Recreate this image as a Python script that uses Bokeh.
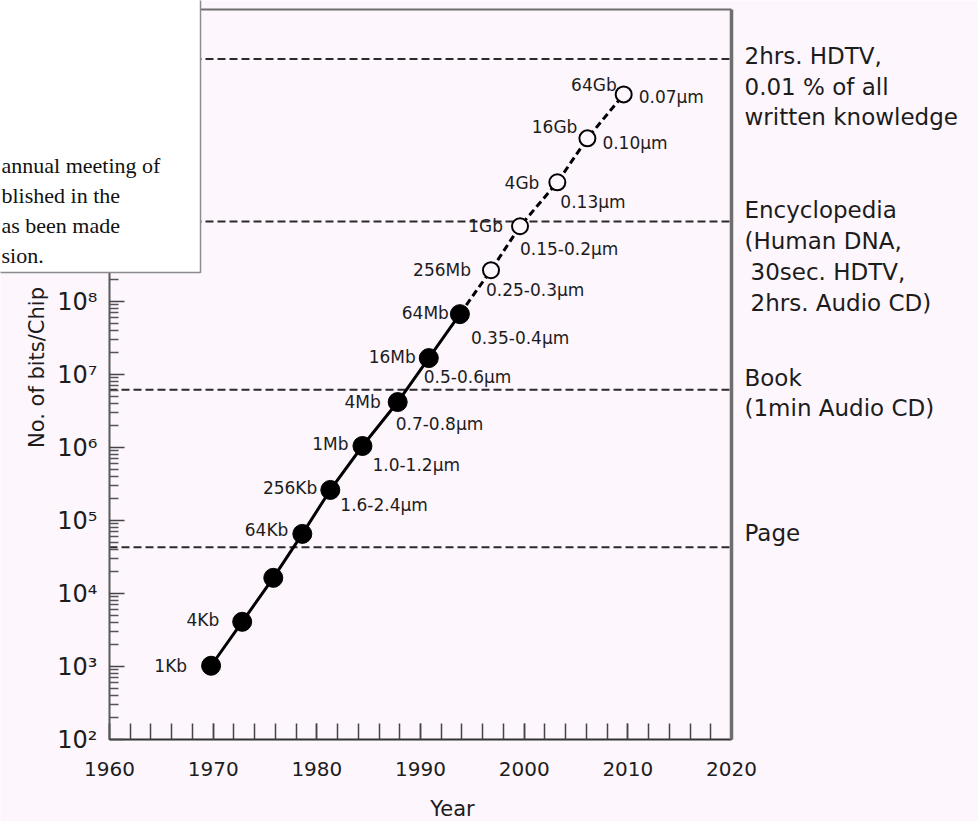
import math

from bokeh.core.properties import value
from bokeh.embed import file_html
from bokeh.models import (BoxAnnotation, FixedTicker, Label, LinearAxis, LogAxis,
                          SingleIntervalTicker)
from bokeh.plotting import figure
from bokeh.resources import INLINE

# ---------------------------------------------------------------- data
# DRAM generations in production: year and bits per chip
years_prod = [1969.8, 1972.8, 1975.8, 1978.6, 1981.3, 1984.4, 1987.8, 1990.8, 1993.8]
bits_prod = [2**10, 2**12, 2**14, 2**16, 2**18, 2**20, 2**22, 2**24, 2**26]
cap_prod = ["1Kb", "4Kb", "", "64Kb", "256Kb", "1Mb", "4Mb", "16Mb", "64Mb"]
rule_prod = ["", "", "", "", "1.6-2.4μm", "1.0-1.2μm", "0.7-0.8μm", "0.5-0.6μm", "0.35-0.4μm"]

# projected generations
years_proj = [1996.8, 1999.6, 2003.2, 2006.1, 2009.6]
bits_proj = [2**28, 2**30, 2**32, 2**34, 2**36]
cap_proj = ["256Mb", "1Gb", "4Gb", "16Gb", "64Gb"]
rule_proj = ["0.25-0.3μm", "0.15-0.2μm", "0.13μm", "0.10μm", "0.07μm"]

# information equivalents (bits)
equiv_bits = [2.1e11, 1.25e9, 6.2e6, 4.3e4]
equiv_text = [
    ["2hrs. HDTV,", "0.01 % of all", "written knowledge"],
    ["Encyclopedia", "(Human DNA,", " 30sec. HDTV,", " 2hrs. Audio CD)"],
    ["Book", "(1min Audio CD)"],
    ["Page"],
]

note_lines = ["annual meeting of", "blished in the", "as been made", "sion."]

x_start, x_end = 1960, 2020
y_start, y_end = 1e2, 1e12
decades = [10**k for k in range(2, 9)]
decade_labels = {10**k: "10" + "⁰¹²³⁴⁵⁶⁷⁸⁹"[k] for k in range(2, 9)}

# ---------------------------------------------------------------- layout
W, H = 978, 821
FL, FR, FT, FB = 109, 731, 9, 739          # axes box edges in pixels
BG = "#fdf6fd"
INK = "#1c1c1c"
SANS = "DejaVu Sans"

LY0, LY1 = math.log10(y_start), math.log10(y_end)


def data_x(px):
    return x_start + (px - FL) * (x_end - x_start) / (FR - FL)


def data_y(py):
    return 10 ** (LY0 + (FB - py) * (LY1 - LY0) / (FB - FT))


def px_y(v):
    return FB - (math.log10(v) - LY0) * (FB - FT) / (LY1 - LY0)


# label offsets (pixels, +y downward) for capacity and feature-size texts
cap_dx_prod = [-24, -23, 0, -14, -13, -14, -17, -13, -11]
cap_dy_prod = [0, -2, 0, -4, -2, -2, 0, -1, -1]
rule_dx_prod = [0, 0, 0, 0, 10, 10, -2, -5, 11]
rule_dy_prod = [0, 0, 0, 0, 15, 19, 22, 19, 24]
cap_dx_proj = [-20, -17, -18, -10, -7]
cap_dy_proj = [0, 0, 1, -11, -9]
rule_dx_proj = [-5, 0, 3, 15, 15]
rule_dy_proj = [20, 23, 20, 5, 3]

# the plotting frame fills the whole canvas; axes sit at fixed data locations
p = figure(
    width=W, height=H, title=None,
    x_range=(data_x(0), data_x(W)), y_range=(data_y(H), data_y(0)),
    y_axis_type="log", x_axis_location=None, y_axis_location=None,
    output_backend="svg", toolbar_location=None, min_border=0,
    background_fill_color=BG, border_fill_color=BG, outline_line_color=None,
)
p.grid.visible = False

# x axis: labelled decades, ticks every two years, all pointing inward
xa = LinearAxis(fixed_location=y_start, bounds=(x_start, x_end),
                ticker=SingleIntervalTicker(interval=10, num_minor_ticks=5))
xa.major_tick_in, xa.major_tick_out = 16, 0
xa.minor_tick_in, xa.minor_tick_out = 16, 0
xa.axis_line_color = "#333333"
xa.axis_line_width = 2
xa.major_tick_line_color = "#444444"
xa.minor_tick_line_color = "#444444"
xa.major_tick_line_width = 1.5
xa.minor_tick_line_width = 1.5
xa.major_label_text_font = SANS
xa.major_label_text_font_size = "20px"
xa.major_label_text_color = INK
xa.major_label_standoff = 22
p.add_layout(xa, "below")

# y axis: decades with 2..9 minor ticks
ya = LogAxis(fixed_location=x_start, bounds=(y_start, y_end),
             ticker=FixedTicker(ticks=decades,
                                minor_ticks=[m * 10**k for k in range(2, 12)
                                             for m in range(2, 10)]))
ya.major_label_overrides = decade_labels
ya.major_tick_in, ya.major_tick_out = 15, 0
ya.minor_tick_in, ya.minor_tick_out = 9, 0
ya.axis_line_color = "#5a5a5a"
ya.axis_line_width = 2
ya.major_tick_line_color = "#444444"
ya.minor_tick_line_color = "#555555"
ya.major_tick_line_width = 1.5
ya.minor_tick_line_width = 1.5
ya.major_label_text_font = SANS
ya.major_label_text_font_size = "24px"
ya.major_label_text_color = INK
ya.major_label_standoff = 12
p.add_layout(ya, "left")

# top and right edges of the axes box
top_edge = LinearAxis(fixed_location=y_end, bounds=(x_start, x_end),
                      ticker=FixedTicker(ticks=[]), axis_line_color="#6e6e6e",
                      axis_line_width=2, major_label_text_font_size="0px")
right_edge = LogAxis(fixed_location=x_end, bounds=(y_start, y_end),
                     ticker=FixedTicker(ticks=[]), axis_line_color="#6e6e6e",
                     axis_line_width=3.5, major_label_text_font_size="0px")
p.add_layout(top_edge, "above")
p.add_layout(right_edge, "right")

# information-equivalent levels
n_eq = len(equiv_bits)
p.segment(x0=[x_start] * n_eq, y0=equiv_bits, x1=[x_end] * n_eq, y1=equiv_bits,
          line_color="#2a2a2a", line_width=2, line_dash="8 4")

# trend lines and chip generations
p.line(years_prod, bits_prod, line_color="black", line_width=3)
p.line([years_prod[-1]] + years_proj, [bits_prod[-1]] + bits_proj,
       line_color="black", line_width=3, line_dash="7 4")
p.scatter(years_prod, bits_prod, marker="circle", size=19,
          fill_color="black", line_color="black")
p.scatter(years_proj, bits_proj, marker="circle", size=16,
          fill_color=BG, line_color="black", line_width=2)

txt = dict(text_font=value(SANS), text_font_size="17px", text_color=INK,
           text_baseline="middle")
p.text(years_prod + years_proj, bits_prod + bits_proj, text=cap_prod + cap_proj,
       x_offset=cap_dx_prod + cap_dx_proj, y_offset=cap_dy_prod + cap_dy_proj,
       text_align="right", **txt)
p.text(years_prod + years_proj, bits_prod + bits_proj, text=rule_prod + rule_proj,
       x_offset=rule_dx_prod + rule_dx_proj, y_offset=rule_dy_prod + rule_dy_proj,
       text_align="left", **txt)

# texts to the right of the axes box
first_gap = [3, 11, 12, 14]
LINE = 30.7
for lvl, lines, gap in zip(equiv_bits, equiv_text, first_gap):
    y0 = px_y(lvl) - gap
    for i, line in enumerate(lines):
        indent = 6 if line.startswith(" ") else 0
        p.add_layout(Label(x=data_x(744 + indent), y=data_y(y0 + i * LINE), text=line.strip(),
                           text_font=SANS, text_font_size="23px", text_color=INK,
                           text_baseline="middle", text_align="left"))

# axis titles
p.add_layout(Label(x=data_x(452), y=data_y(808), text="Year", text_font=SANS,
                   text_font_size="21px", text_color=INK, text_align="center",
                   text_baseline="middle"))
p.add_layout(Label(x=data_x(36), y=data_y(367), text="No. of bits/Chip", angle=math.pi / 2,
                   text_font=SANS, text_font_size="21px", text_color=INK,
                   text_align="center", text_baseline="middle"))

# note box over the upper-left corner
p.add_layout(BoxAnnotation(left=data_x(-10), right=data_x(200), top=data_y(-10),
                           bottom=data_y(272), fill_color="white", fill_alpha=1.0,
                           line_color="#8c8c8c", line_width=1.5, line_alpha=1.0,
                           level="overlay"))
for i, line in enumerate(note_lines):
    p.add_layout(Label(x=data_x(1), y=data_y(165 + 30 * i), text=line,
                       text_font="Liberation Serif", text_font_size="22px",
                       text_color="#111111", text_baseline="middle", text_align="left",
                       level="overlay"))

open("out.html", "w").write(file_html(p, INLINE))
